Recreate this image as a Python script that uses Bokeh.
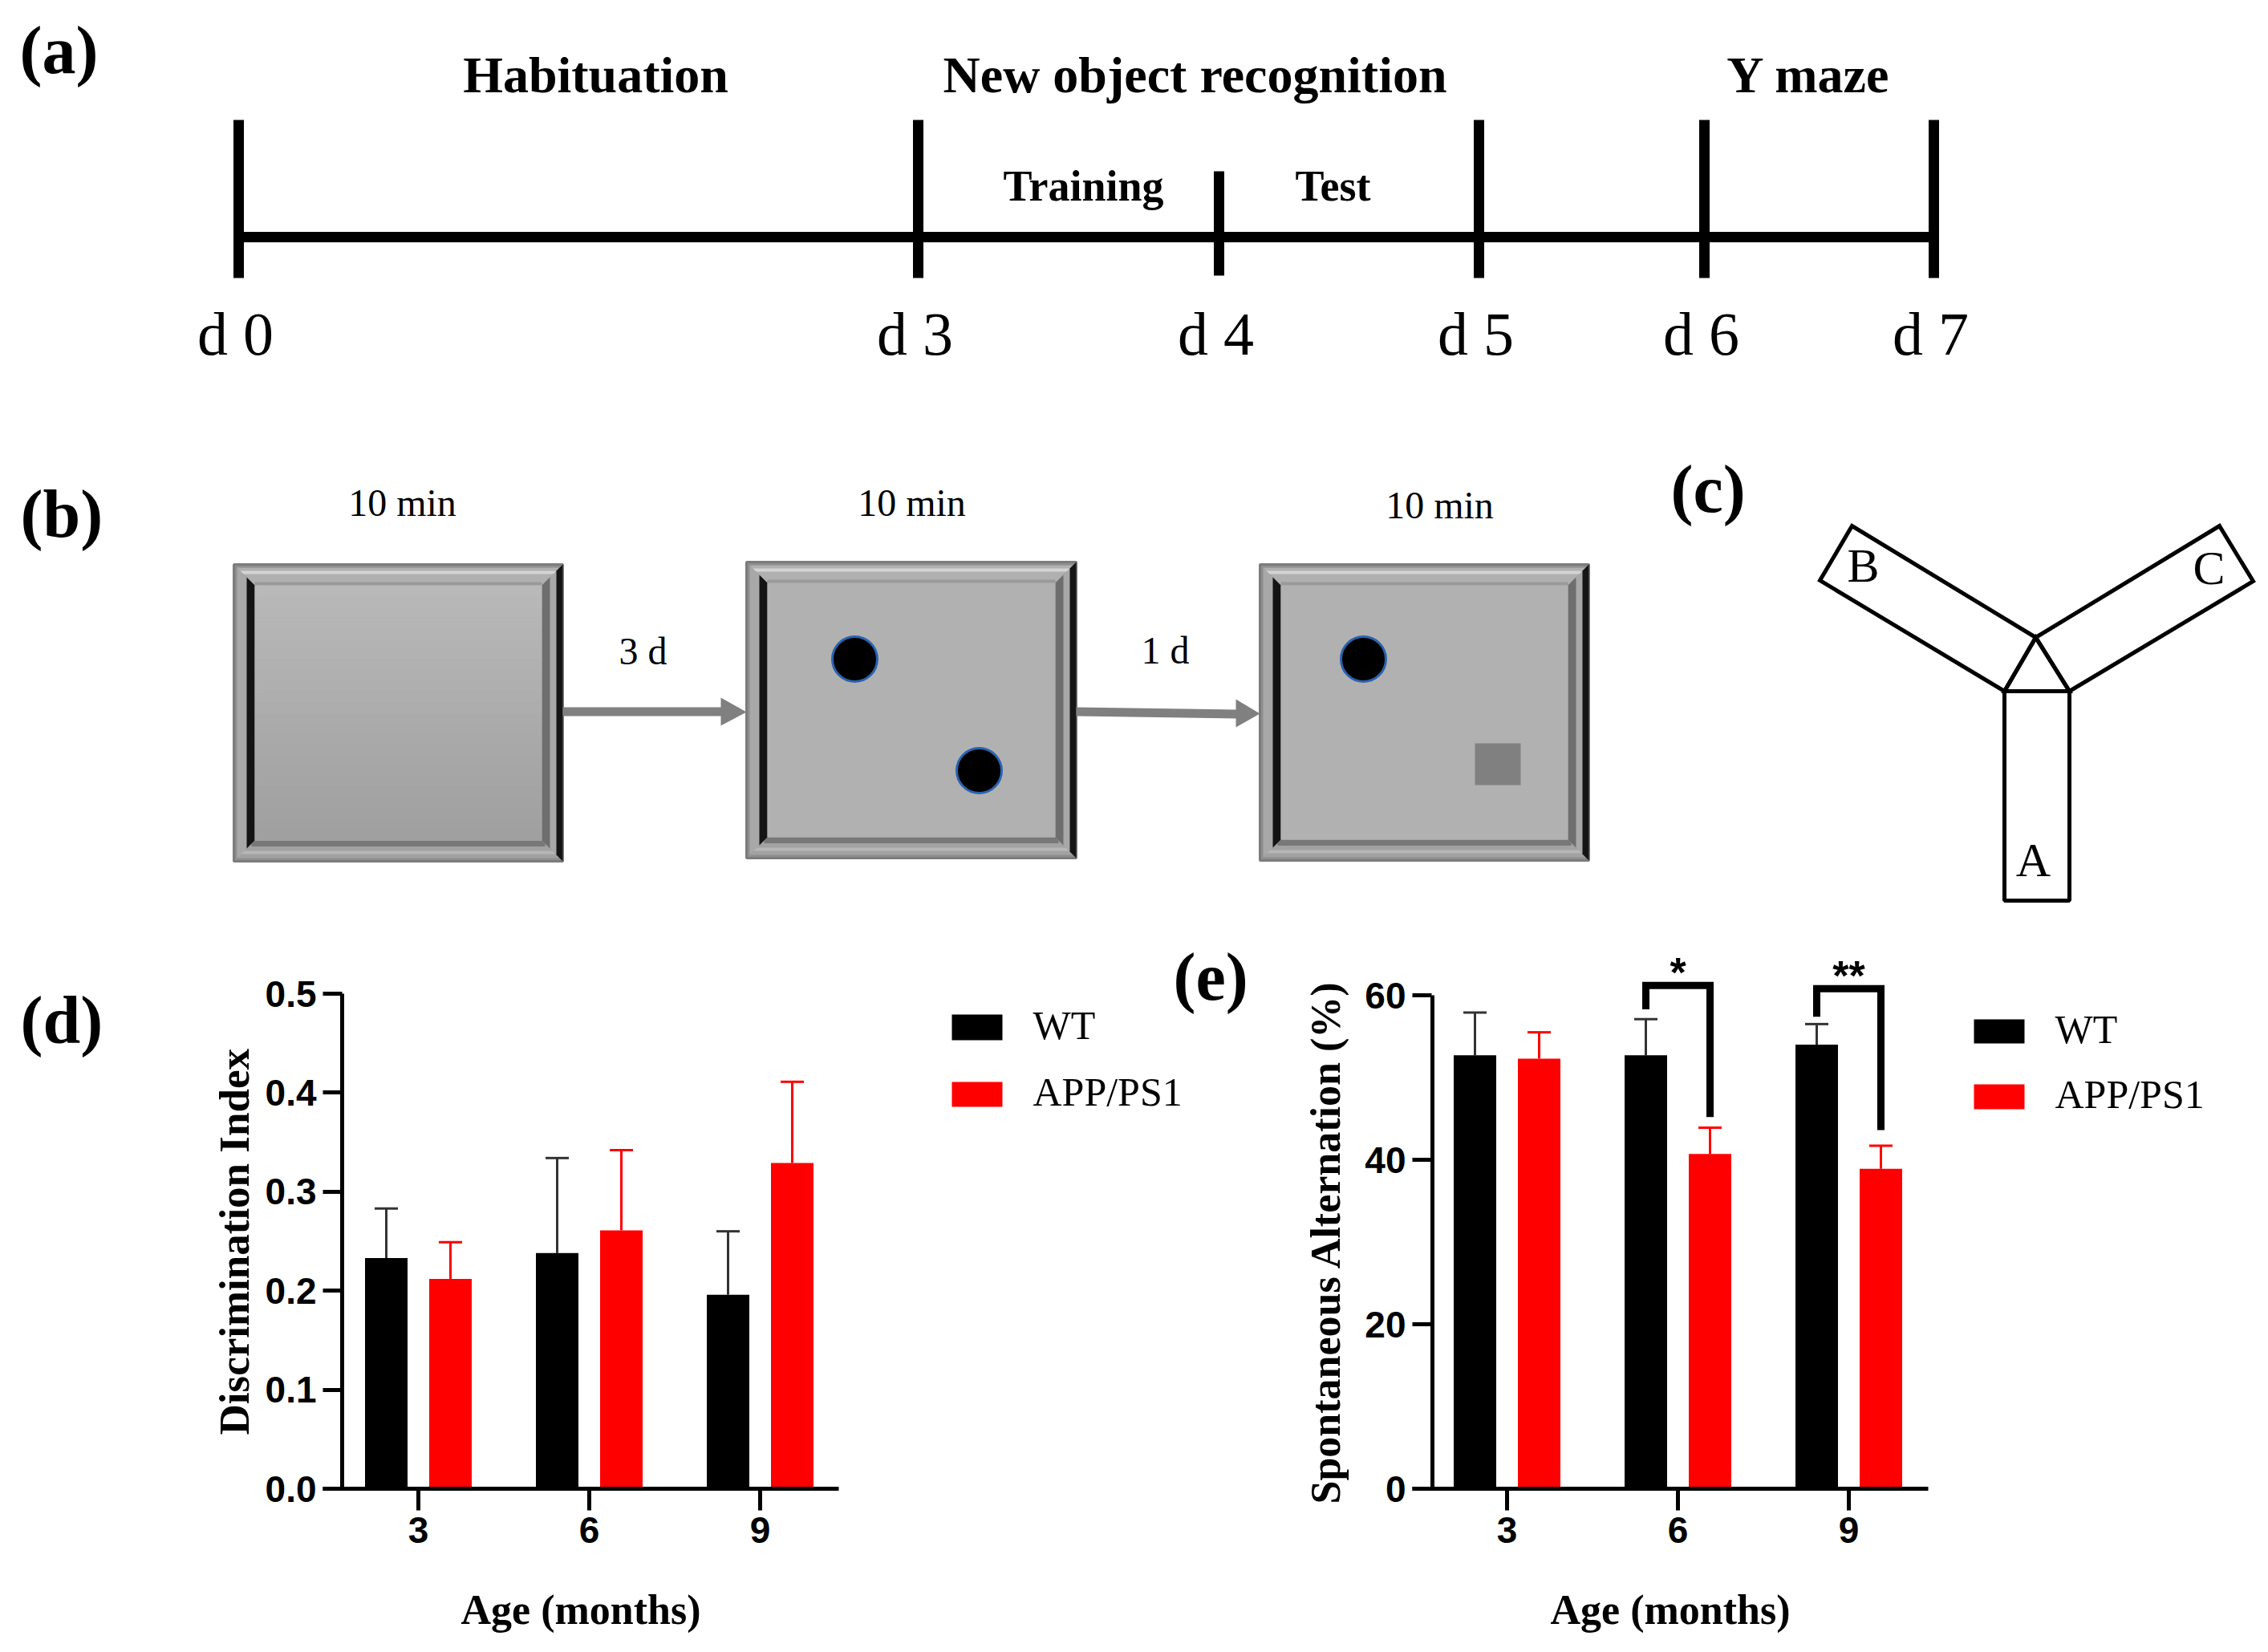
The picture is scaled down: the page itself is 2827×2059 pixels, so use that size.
from bokeh.plotting import figure
from bokeh.models import (Range1d, FixedTicker, PrintfTickFormatter, Whisker, ColumnDataSource,
                          TeeHead, Title)
from bokeh.layouts import column, row
from bokeh.embed import file_html
from bokeh.resources import INLINE
from bokeh.core.properties import value

# ---------------- data ----------------
ages = [3, 6, 9]
groups = ["WT", "APP/PS1"]
di_wt = [0.233, 0.238, 0.196]
di_wt_sem = [0.050, 0.096, 0.064]
di_app = [0.212, 0.261, 0.329]
di_app_sem = [0.037, 0.081, 0.082]
sa_wt = [52.7, 52.7, 54.0]
sa_wt_sem = [5.2, 4.4, 2.5]
sa_app = [52.3, 40.7, 38.9]
sa_app_sem = [3.2, 3.2, 2.8]
sig_ages = [6, 9]
sig_marks = ["*", "**"]
sig_left = [58.3, 57.4]
sig_top = [61.2, 60.8]
sig_right = [45.2, 43.6]
di_ticks = [0.0, 0.1, 0.2, 0.3, 0.4, 0.5]
sa_ticks = [0, 20, 40, 60]
timeline_days = ["d 0", "d 3", "d 4", "d 5", "d 6", "d 7"]
phases = ["Habituation", "New object recognition", "Y maze"]
subphases = ["Training", "Test"]
session_times = ["10 min", "10 min", "10 min"]
intervals = ["3 d", "1 d"]
arms = ["A", "B", "C"]

SERIF = "Liberation Serif"
SANS = "Liberation Sans"
WT_COL = "#000000"
APP_COL = "#FF0000"
PAGE_W = 2827
TOP_H = 1150
BOT_H = 2059 - TOP_H
BASE_SHIFT = 0.39   # em; compensates the baseline placement of the text glyph


def txt(p, xs, ys, texts, size, bold=False, align="center", font=SERIF):
    ys = [y - BASE_SHIFT * size for y in ys]
    p.text(x=xs, y=ys, text=texts, text_font=value(font), text_font_size=value("%dpx" % size),
           text_font_style="bold" if bold else "normal", text_align=align,
           text_baseline="alphabetic", text_color="black")


def canvas(x0, x1, y_top, y_bot, w, h, **borders):
    p = figure(width=w, height=h, x_range=Range1d(x0, x1), y_range=Range1d(y_bot, y_top),
               output_backend="svg", toolbar_location=None, title=None,
               x_axis_type=None, y_axis_type=None, **borders)
    p.grid.visible = False
    p.outline_line_color = None
    return p


# ---------------- top schematic (a), (b), (c) ----------------
top = canvas(0, PAGE_W, 0, TOP_H, PAGE_W, TOP_H, min_border=0)

txt(top, [24, 25, 2082], [95, 673, 642], ["(a)", "(b)", "(c)"], 84, bold=True, align="left")

# (a) timeline
tl_x = [297, 1144, 1519, 1843, 2124, 2410]
tl_top = [149, 149, 213, 149, 149, 149]
tl_bot = [346, 346, 343, 346, 346, 346]
top.segment(x0=tl_x[0], y0=295, x1=tl_x[-1], y1=295, line_width=13, line_color="black")
top.segment(x0=tl_x, y0=tl_top, x1=tl_x, y1=tl_bot, line_width=13, line_color="black")
txt(top, [x - 4 for x in tl_x], [445] * 6, timeline_days, 76)
txt(top, [742, 1489, 2254], [118] * 3, phases, 64, bold=True)
txt(top, [1350, 1661], [253, 253], subphases, 54, bold=True)


# (b) open-field boxes
def draw_box(p, L, T, R, B, gradient):
    b = 26
    p.quad(left=L, right=R, top=T, bottom=B, fill_color="#8E8E8E", line_color="#7C7C7C", line_width=3)
    p.patch([L + 4, R - 4, R - b, L + b], [T + 4, T + 4, T + b, T + b], fill_color="#B0B0B0", line_color=None)
    p.segment(L + 7, T + 10, R - 7, T + 10, line_color="#D4D4D4", line_width=4)
    p.segment(L + b, T + b - 2, R - b, T + b - 2, line_color="#9A9A9A", line_width=4)
    p.patch([L + b, R - b, R - 4, L + 4], [B - b, B - b, B - 4, B - 4], fill_color="#A2A2A2", line_color=None)
    p.segment(L + b - 4, B - b + 4, R - b + 4, B - b + 4, line_color="#787878", line_width=7)
    p.segment(L + 8, B - 11, R - 8, B - 11, line_color="#B6B6B6", line_width=4)
    p.patch([L + 4, L + b, L + b, L + 4], [T + 4, T + b, B - b, B - 4], fill_color="#A8A8A8", line_color=None)
    p.patch([L + 16, L + b, L + b, L + 16], [T + 16, T + b, B - b, B - 16], fill_color="#141414", line_color=None)
    p.patch([R - 4, R - b, R - b, R - 4], [T + 4, T + b, B - b, B - 4], fill_color="#A8A8A8", line_color=None)
    p.patch([R - b, R - b + 10, R - b + 10, R - b], [T + b, T + b - 10, B - b + 10, B - b],
            fill_color="#6E6E6E", line_color=None)
    p.patch([R - 8, R, R, R - 8], [T + 8, T, B, B - 8], fill_color="#151515", line_color=None)
    if gradient:
        n = 24
        h = (B - T - 2 * b) / n
        for i in range(n):
            g = int(0xB9 - (0xB9 - 0xA0) * i / (n - 1))
            p.quad(left=L + b, right=R - b, top=T + b + i * h, bottom=T + b + (i + 1) * h + 0.6,
                   fill_color="#%02x%02x%02x" % (g, g, g), line_color=None)
    else:
        p.quad(left=L + b, right=R - b, top=T + b, bottom=B - b, fill_color="#B1B1B1", line_color=None)


draw_box(top, 291, 703, 701, 1073, True)
draw_box(top, 930, 700, 1341, 1069, False)
draw_box(top, 1570, 703, 1980, 1072, False)

top.circle(x=[1065, 1220, 1699], y=[821, 960, 821], radius=28, fill_color="black",
           line_color="#2A62B0", line_width=3)
top.quad(left=1838, right=1895, top=926, bottom=978, fill_color="#808080", line_color=None)

top.patch([701, 899, 899, 701], [881, 881, 892, 892], fill_color="#808080", line_color=None)
top.patch([898, 930, 898], [869, 887, 904], fill_color="#808080", line_color=None)
top.patch([1341, 1542, 1542, 1341], [881, 884, 895, 892], fill_color="#808080", line_color=None)
top.patch([1540, 1570, 1540], [871, 889, 906], fill_color="#808080", line_color=None)

txt(top, [501, 1136, 1794], [645, 645, 648], session_times, 48)
txt(top, [801, 1452], [830, 829], intervals, 48)

# (c) Y maze
top.patches(xs=[[2537, 2308, 2268, 2498], [2537, 2766, 2808, 2579], [2498, 2537, 2579]],
            ys=[[794, 655, 723, 861], [794, 655, 724, 861], [861, 794, 861]],
            fill_color=None, line_color="black", line_width=5, line_join="miter")
top.quad(left=2498, right=2579, top=861, bottom=1122, fill_color=None, line_color="black", line_width=5)
txt(top, [2534, 2322, 2753], [1095, 728, 731], arms, 60)

# ---------------- bottom row: (d) and (e) ----------------
FT, FB = 1180, 1855          # frame top / bottom on the page for every bottom figure
BT = FT - TOP_H
BB = TOP_H + BOT_H - FB
PX = 71.0                     # px per month on the x scale
OFF = 40 / PX
BW = 53 / PX


def style_axes(p, yticks, yfmt):
    p.grid.visible = False
    p.outline_line_color = None
    p.xaxis.ticker = FixedTicker(ticks=ages)
    p.xaxis.axis_line_width = 5
    p.xaxis.major_tick_line_width = 5
    p.xaxis.major_tick_in = 0
    p.xaxis.major_tick_out = 27
    p.xaxis.minor_tick_line_color = None
    p.xaxis.major_label_standoff = 8
    p.xaxis.axis_label = "Age (months)"
    p.xaxis.axis_label_standoff = 52
    p.yaxis.ticker = FixedTicker(ticks=yticks)
    if yfmt:
        p.yaxis.formatter = PrintfTickFormatter(format=yfmt)
    p.yaxis.axis_line_alpha = 0
    p.yaxis.major_tick_line_width = 5
    p.yaxis.major_tick_in = 24
    p.yaxis.major_tick_out = 0
    p.yaxis.minor_tick_line_color = None
    p.yaxis.major_label_standoff = 8
    for ax in (p.xaxis, p.yaxis):
        ax.major_label_text_font = SANS
        ax.major_label_text_font_style = "bold"
        ax.major_label_text_font_size = "46px"
        ax.major_label_text_color = "black"
        ax.axis_label_text_font = SERIF
        ax.axis_label_text_font_style = "bold"
        ax.axis_label_text_color = "black"
        ax.axis_label_text_font_size = "52px"


def bars(p, wt, wt_sem, app, app_sem, ymax_axis, yaxis_x):
    x_wt = [a - OFF for a in ages]
    x_app = [a + OFF for a in ages]
    p.vbar(x=x_wt, top=wt, width=BW, fill_color=WT_COL, line_color=None)
    p.vbar(x=x_app, top=app, width=BW, fill_color=APP_COL, line_color=None)
    for xs, m, s, col in ((x_wt, wt, wt_sem, "#333333"), (x_app, app, app_sem, APP_COL)):
        src = ColumnDataSource(dict(x=xs, base=m, upper=[a + b for a, b in zip(m, s)]))
        p.add_layout(Whisker(source=src, base="x", lower="base", upper="upper", dimension="height",
                             line_color=col, line_width=3, lower_head=None,
                             upper_head=TeeHead(size=29, line_color=col, line_width=3)))
    p.segment(x0=yaxis_x, y0=0, x1=yaxis_x, y1=ymax_axis, line_width=5, line_color="black")


def ytitle(p, text, size, offset, standoff):
    # left-aligned title: starts 'offset' px above the frame bottom and reads upwards
    p.add_layout(Title(text=text, align="left", offset=offset, text_font=SERIF,
                       text_font_size=size, text_font_style="bold", text_color="black",
                       standoff=standoff), "left")


def legend_block(p, x_rect, tops, heights, x_text, baselines):
    p.quad(left=x_rect, right=x_rect + 63, top=tops, bottom=[t + h for t, h in zip(tops, heights)],
           fill_color=[WT_COL, APP_COL], line_color=None)
    txt(p, [x_text] * 2, baselines, groups, 50, align="left")


# aux left: "(d)"  (page x 0..200)
aux_l = canvas(0, 200, FT, FB, 200, BOT_H, min_border_left=0, min_border_right=0,
               min_border_top=BT, min_border_bottom=BB)
txt(aux_l, [25], [1304], ["(d)"], 84, bold=True, align="left")

# (d) chart (page x 200..1110; frame 402..1045)
d_zero, d_half = 1855, 1238
d_top = 0.5 * (d_zero - FT) / (d_zero - d_half)
dx0 = 3 - 119 / PX
pd_ = figure(width=910, height=BOT_H, x_range=Range1d(dx0, dx0 + 643 / PX), y_range=Range1d(0, d_top),
             output_backend="svg", toolbar_location=None, title=None,
             min_border_left=202, min_border_right=65, min_border_top=BT, min_border_bottom=BB)
style_axes(pd_, di_ticks, "%.1f")
bars(pd_, di_wt, di_wt_sem, di_app, di_app_sem, 0.5, dx0 + 24 / PX)
ytitle(pd_, "Discrimination Index", "53px", 67, 14)

# aux middle: legend (d) and "(e)"  (page x 1110..1600)
aux_m = canvas(1110, 1600, FT, FB, 490, BOT_H, min_border_left=0, min_border_right=0,
               min_border_top=BT, min_border_bottom=BB)
legend_block(aux_m, 1186, [1264, 1348], [32, 31], 1287, [1297, 1380])
txt(aux_m, [1462], [1250], ["(e)"], 84, bold=True, align="left")

# (e) chart (page x 1600..2440; frame 1760..2403)
e_zero, e_sixty = 1855, 1240
e_top = 60 * (e_zero - FT) / (e_zero - e_sixty)
ex0 = 3 - 118 / PX
pe = figure(width=840, height=BOT_H, x_range=Range1d(ex0, ex0 + 643 / PX), y_range=Range1d(0, e_top),
            output_backend="svg", toolbar_location=None, title=None,
            min_border_left=160, min_border_right=37, min_border_top=BT, min_border_bottom=BB)
style_axes(pe, sa_ticks, None)
bars(pe, sa_wt, sa_wt_sem, sa_app, sa_app_sem, 60, ex0 + 25 / PX)
ytitle(pe, "Spontaneous Alternation (%)", "52px", -19, 36)

pe.multi_line(xs=[[a - OFF, a - OFF, a + OFF, a + OFF] for a in sig_ages],
              ys=[[l, t, t, r] for l, t, r in zip(sig_left, sig_top, sig_right)],
              line_width=9, line_color="black", line_join="miter")
pe.text(x=sig_ages, y=[t + 1.6 for t in sig_top], text=sig_marks, text_font=value(SANS),
        text_font_style="bold", text_font_size=value("52px"), text_align="center",
        text_baseline="alphabetic")

# aux right: legend (e)  (page x 2440..2827)
aux_r = canvas(2440, PAGE_W, FT, FB, PAGE_W - 2440, BOT_H, min_border_left=0, min_border_right=0,
               min_border_top=BT, min_border_bottom=BB)
legend_block(aux_r, 2460, [1270, 1351], [30, 31], 2561, [1302, 1383])

layout = column(top, row(aux_l, pd_, aux_m, pe, aux_r))
open("out.html", "w").write(file_html(layout, INLINE))
